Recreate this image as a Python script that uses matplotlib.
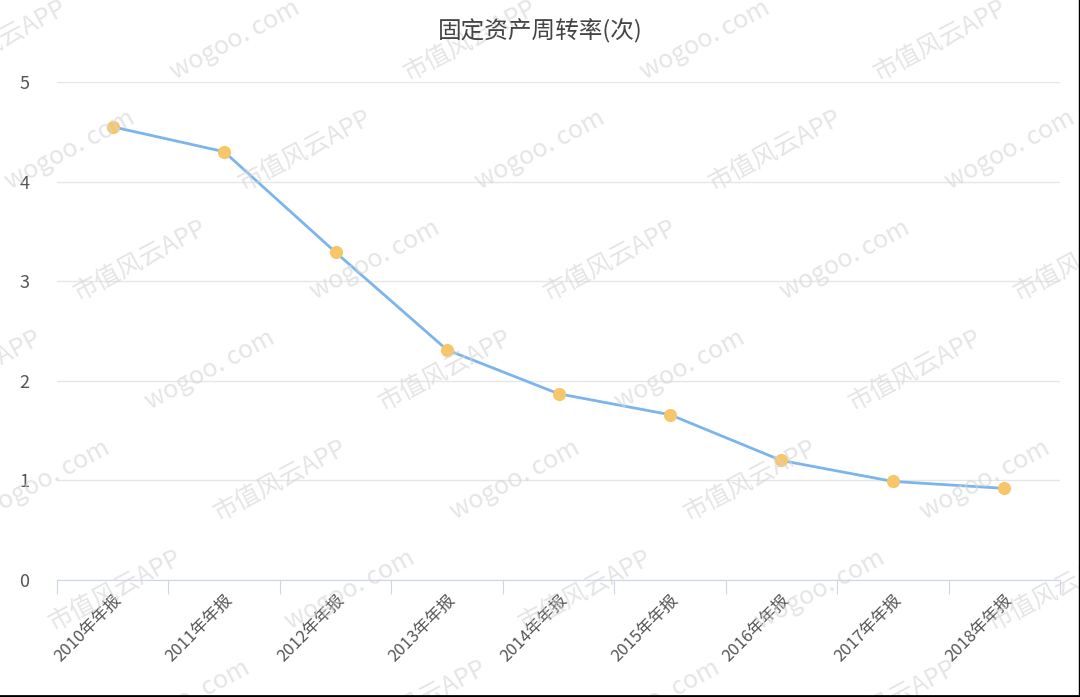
import matplotlib.pyplot as plt

plt.rcParams['font.family'] = ['Noto Sans CJK SC', 'DejaVu Sans']

# data
years = ['2010年年报', '2011年年报', '2012年年报', '2013年年报', '2014年年报',
         '2015年年报', '2016年年报', '2017年年报', '2018年年报']
turnover = [4.55, 4.30, 3.29, 2.31, 1.87, 1.66, 1.20, 0.99, 0.92]

fig = plt.figure(figsize=(10.8, 6.97), dpi=100)
ax = fig.add_axes([57 / 1080, 117 / 697, 1003 / 1080, 498 / 697])

x = list(range(len(years)))
ax.plot(x, turnover, color='#7cb5ec', linewidth=2, zorder=3)
ax.scatter(x, turnover, s=90, color='#f7c66b', zorder=4, linewidths=0)

ax.set_xlim(-0.5, len(years) - 0.5)
ax.set_ylim(0, 5)
ax.set_yticks([0, 1, 2, 3, 4, 5])
ax.grid(axis='y', color='#e6e6e6', linewidth=1)
ax.set_axisbelow(True)

for s in ['top', 'right', 'left']:
    ax.spines[s].set_visible(False)
ax.spines['bottom'].set_color('#ccd6eb')

# ticks at category boundaries, labels at centers
ax.set_xticks([i - 0.5 for i in range(len(years) + 1)])
ax.set_xticklabels([])
ax.set_xticks(x, minor=True)
ax.set_xticklabels(years, minor=True, rotation=45, ha='right', va='top',
                   rotation_mode='anchor', fontsize=12, color='#555555')
ax.tick_params(axis='x', which='major', length=10, color='#ccd6eb')
ax.tick_params(axis='x', which='minor', length=0, pad=8)
ax.tick_params(axis='y', length=0, labelsize=13, labelcolor='#555555', pad=20)

fig.text(0.5, 0.955, '固定资产周转率(次)', ha='center', va='center',
         fontsize=17, color='#444444')

# watermark tiled over the whole picture
for row in range(-2, 10):
    for col in range(-1, 7):
        px = col * 235 + row * 70
        py = row * 110 + 40
        label = '市值风云APP' if (row + col) % 2 == 0 else 'wogoo. com'
        fig.text(px / 1080, 1 - py / 697, label, rotation=28, fontsize=18,
                 color='#d4d4d4', alpha=0.6, ha='center', va='center', zorder=0)

# border lines at bottom and right
fig.add_artist(plt.Line2D([0, 1], [0.002, 0.002], color='black', linewidth=2))
fig.add_artist(plt.Line2D([0.999, 0.999], [0, 1], color='black', linewidth=1))

fig.savefig('out.png', dpi=100)
